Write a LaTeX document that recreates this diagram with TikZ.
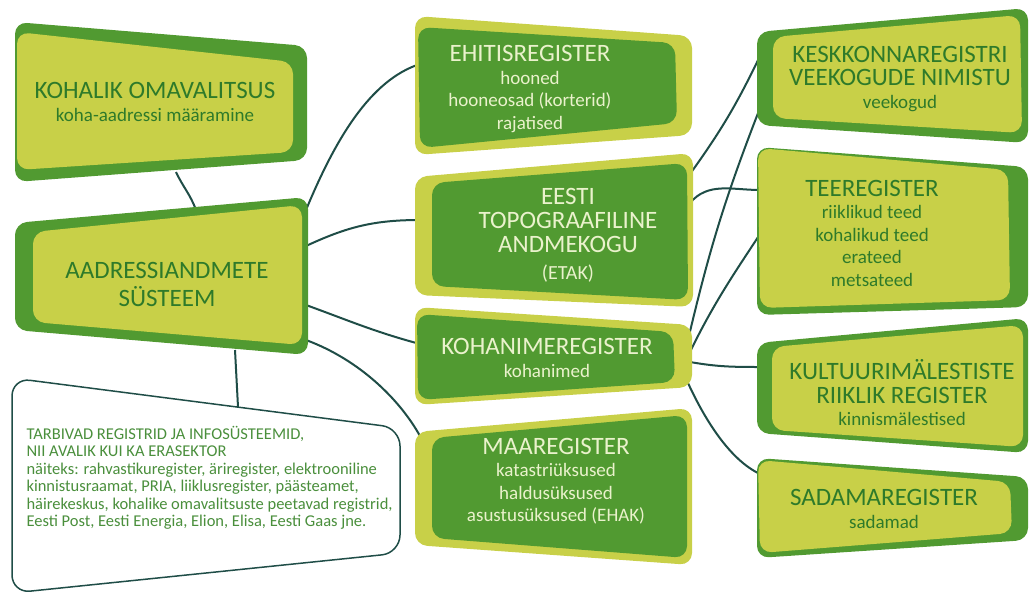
\documentclass[tikz,border=0pt]{standalone}
\usepackage{fontspec}
\setmainfont{Carlito}
\usepackage{tikz}
\definecolor{lightgreen}{HTML}{C8D048}
\definecolor{darkgreen}{HTML}{519A31}
\definecolor{textdark}{HTML}{2E7A2A}
\definecolor{textlight}{HTML}{EAF2CC}
\definecolor{linegreen}{HTML}{1F4D47}
\definecolor{notegreen}{HTML}{4A8F3C}
\newcommand\regtitle{\fontsize{25}{24}\selectfont}
\newcommand\regsub{\fontsize{19}{22.5}\selectfont}
\tikzset{
  conn/.style={draw=linegreen, line width=2pt},
  outerlight/.style={fill=lightgreen, rounded corners=12pt},
  outerdark/.style={fill=darkgreen, rounded corners=12pt},
  onlight/.style={align=center, text=textdark, font=\regsub},
  ondark/.style={align=center, text=textlight, font=\regsub},
}

\begin{document}
\begin{tikzpicture}[x=1pt, y=-1pt]
\useasboundingbox (0,0) rectangle (1032,597);

\coordinate (ko-s) at (176,172);
\coordinate (aas-n) at (196,210);
\coordinate (aas-ne) at (306,210);
\coordinate (aas-e1) at (306,246);
\coordinate (aas-e2) at (306,305);
\coordinate (aas-e3) at (306,340);
\coordinate (aas-s) at (235,350);
\coordinate (tarb-n) at (238,407);
\coordinate (ehr-w) at (420,64);
\coordinate (etak-w) at (420,220);
\coordinate (etak-e1) at (690,174);
\coordinate (etak-e2) at (690,203);
\coordinate (knr-w) at (420,344);
\coordinate (knr-e1) at (688,340);
\coordinate (knr-e2) at (690,352);
\coordinate (knr-e3) at (690,362);
\coordinate (knr-e4) at (688,383);
\coordinate (maa-w) at (420,436);
\coordinate (kkr-w1) at (760,56);
\coordinate (kkr-w2) at (760,108);
\coordinate (teer-w1) at (760,190);
\coordinate (teer-w2) at (760,234);
\coordinate (kmr-w) at (760,367);
\coordinate (sad-w) at (760,474);

\draw[conn] (ko-s) to[out=-65,in=110] (aas-n);
\draw[conn] (aas-ne) .. controls (335,140) and (370,80) .. (ehr-w);
\draw[conn] (aas-e1) to[out=25,in=180] (etak-w);
\draw[conn] (aas-e2) to[out=-20,in=165] (knr-w);
\draw[conn] (aas-e3) .. controls (360,360) and (400,400) .. (maa-w);
\draw[conn] (aas-s) -- (tarb-n);
\draw[conn] (etak-e1) to[bend right=5] (kkr-w1);
\draw[conn] (etak-e2) to[out=50,in=180] (teer-w1);
\draw[conn] (knr-e1) to[bend left=4] (kkr-w2);
\draw[conn] (knr-e2) .. controls (715,300) and (740,265) .. (teer-w2);
\draw[conn] (knr-e3) to[out=-10,in=180] (kmr-w);
\draw[conn] (knr-e4) .. controls (705,420) and (730,460) .. (sad-w);

\fill[outerdark] (15,22) -- (307,46) -- (307,160) -- (15,182) -- cycle;
\fill[outerlight] (17,32) -- (293,62) -- (293,152) -- (17,170) -- cycle;
\node[onlight] (ko) at (155,102) {{\regtitle KOHALIK OMAVALITSUS}\\koha-aadressi määramine};

\fill[outerdark] (15,223) -- (308,197) -- (308,355) -- (15,330) -- cycle;
\fill[outerlight] (33,232) -- (302,205) -- (302,345) -- (33,322) -- cycle;
\node[onlight, font=\fontsize{25}{28}\selectfont] (aas) at (167,284) {AADRESSIANDMETE\\SÜSTEEM};

\draw[draw=linegreen, line width=1.5pt, fill=white, rounded corners=18pt]
  (12,378) -- (400,428) -- (400,553) -- (12,593) -- cycle;
\node[anchor=west, align=left, text=notegreen, font=\fontsize{16.5}{17.5}\selectfont] (tarb) at (23,478)
  {TARBIVAD REGISTRID JA INFOSÜSTEEMID,\\NII AVALIK KUI KA ERASEKTOR\\
   näiteks: rahvastikuregister, äriregister, elektrooniline\\
   kinnistusraamat, PRIA, liiklusregister, päästeamet,\\
   häirekeskus, kohalike omavalitsuste peetavad registrid,\\
   Eesti Post, Eesti Energia, Elion, Elisa, Eesti Gaas jne.};

\fill[outerlight] (415,16) -- (692,36) -- (692,135) -- (415,155) -- cycle;
\fill[outerdark] (418,27) -- (675,43) -- (677,123) -- (420,148) -- cycle;
\node[ondark] (ehr) at (530,89) {{\regtitle EHITISREGISTER}\\hooned\\hooneosad (korterid)\\rajatised};

\fill[outerlight] (415,177) -- (693,153) -- (693,307) -- (415,295) -- cycle;
\fill[outerdark] (432,183) -- (687,163) -- (688,300) -- (432,286) -- cycle;
\node[ondark, font=\regtitle] (etak) at (568,235) {EESTI\\TOPOGRAAFILINE\\ANDMEKOGU\\[3pt]{\fontsize{20}{24}\selectfont (ETAK)}};

\fill[outerlight] (415,307) -- (692,325) -- (692,387) -- (415,405) -- cycle;
\fill[outerdark] (417,314) -- (673,332) -- (675,382) -- (418,400) -- cycle;
\node[ondark] (knr) at (547,358) {{\regtitle KOHANIMEREGISTER}\\kohanimed};

\fill[outerlight] (415,432) -- (692,408) -- (692,565) -- (415,545) -- cycle;
\fill[outerdark] (432,438) -- (687,415) -- (687,558) -- (432,538) -- cycle;
\node[ondark] (maa) at (556,481) {{\regtitle MAAREGISTER}\\katastriüksused\\haldusüksused\\asustusüksused (EHAK)};

\fill[outerdark] (757,32) -- (1028,8) -- (1028,143) -- (757,125) -- cycle;
\fill[outerlight] (773,37) -- (1020,15) -- (1022,133) -- (773,118) -- cycle;
\node[onlight] (kkr) at (900,79) {{\regtitle KESKKONNAREGISTRI}\\[1pt]{\regtitle VEEKOGUDE NIMISTU}\\veekogud};

\fill[outerdark] (757,147) -- (1028,167) -- (1028,307) -- (757,315) -- cycle;
\fill[outerlight] (758,148) -- (1008,170) -- (1010,300) -- (760,308) -- cycle;
\node[onlight] (teer) at (872,233) {{\regtitle TEEREGISTER}\\riiklikud teed\\kohalikud teed\\erateed\\metsateed};

\fill[outerdark] (757,343) -- (1028,318) -- (1028,453) -- (757,433) -- cycle;
\fill[outerlight] (772,347) -- (1023,325) -- (1023,447) -- (772,430) -- cycle;
\node[onlight] (kmr) at (902,393) {{\regtitle KULTUURIMÄLESTISTE}\\[1pt]{\regtitle RIIKLIK REGISTER}\\kinnismälestised};

\fill[outerdark] (757,458) -- (1028,477) -- (1028,540) -- (757,558) -- cycle;
\fill[outerlight] (758,460) -- (1010,482) -- (1012,533) -- (760,553) -- cycle;
\node[onlight] (sad) at (884,509) {{\regtitle SADAMAREGISTER}\\sadamad};
\end{tikzpicture}
\end{document}
